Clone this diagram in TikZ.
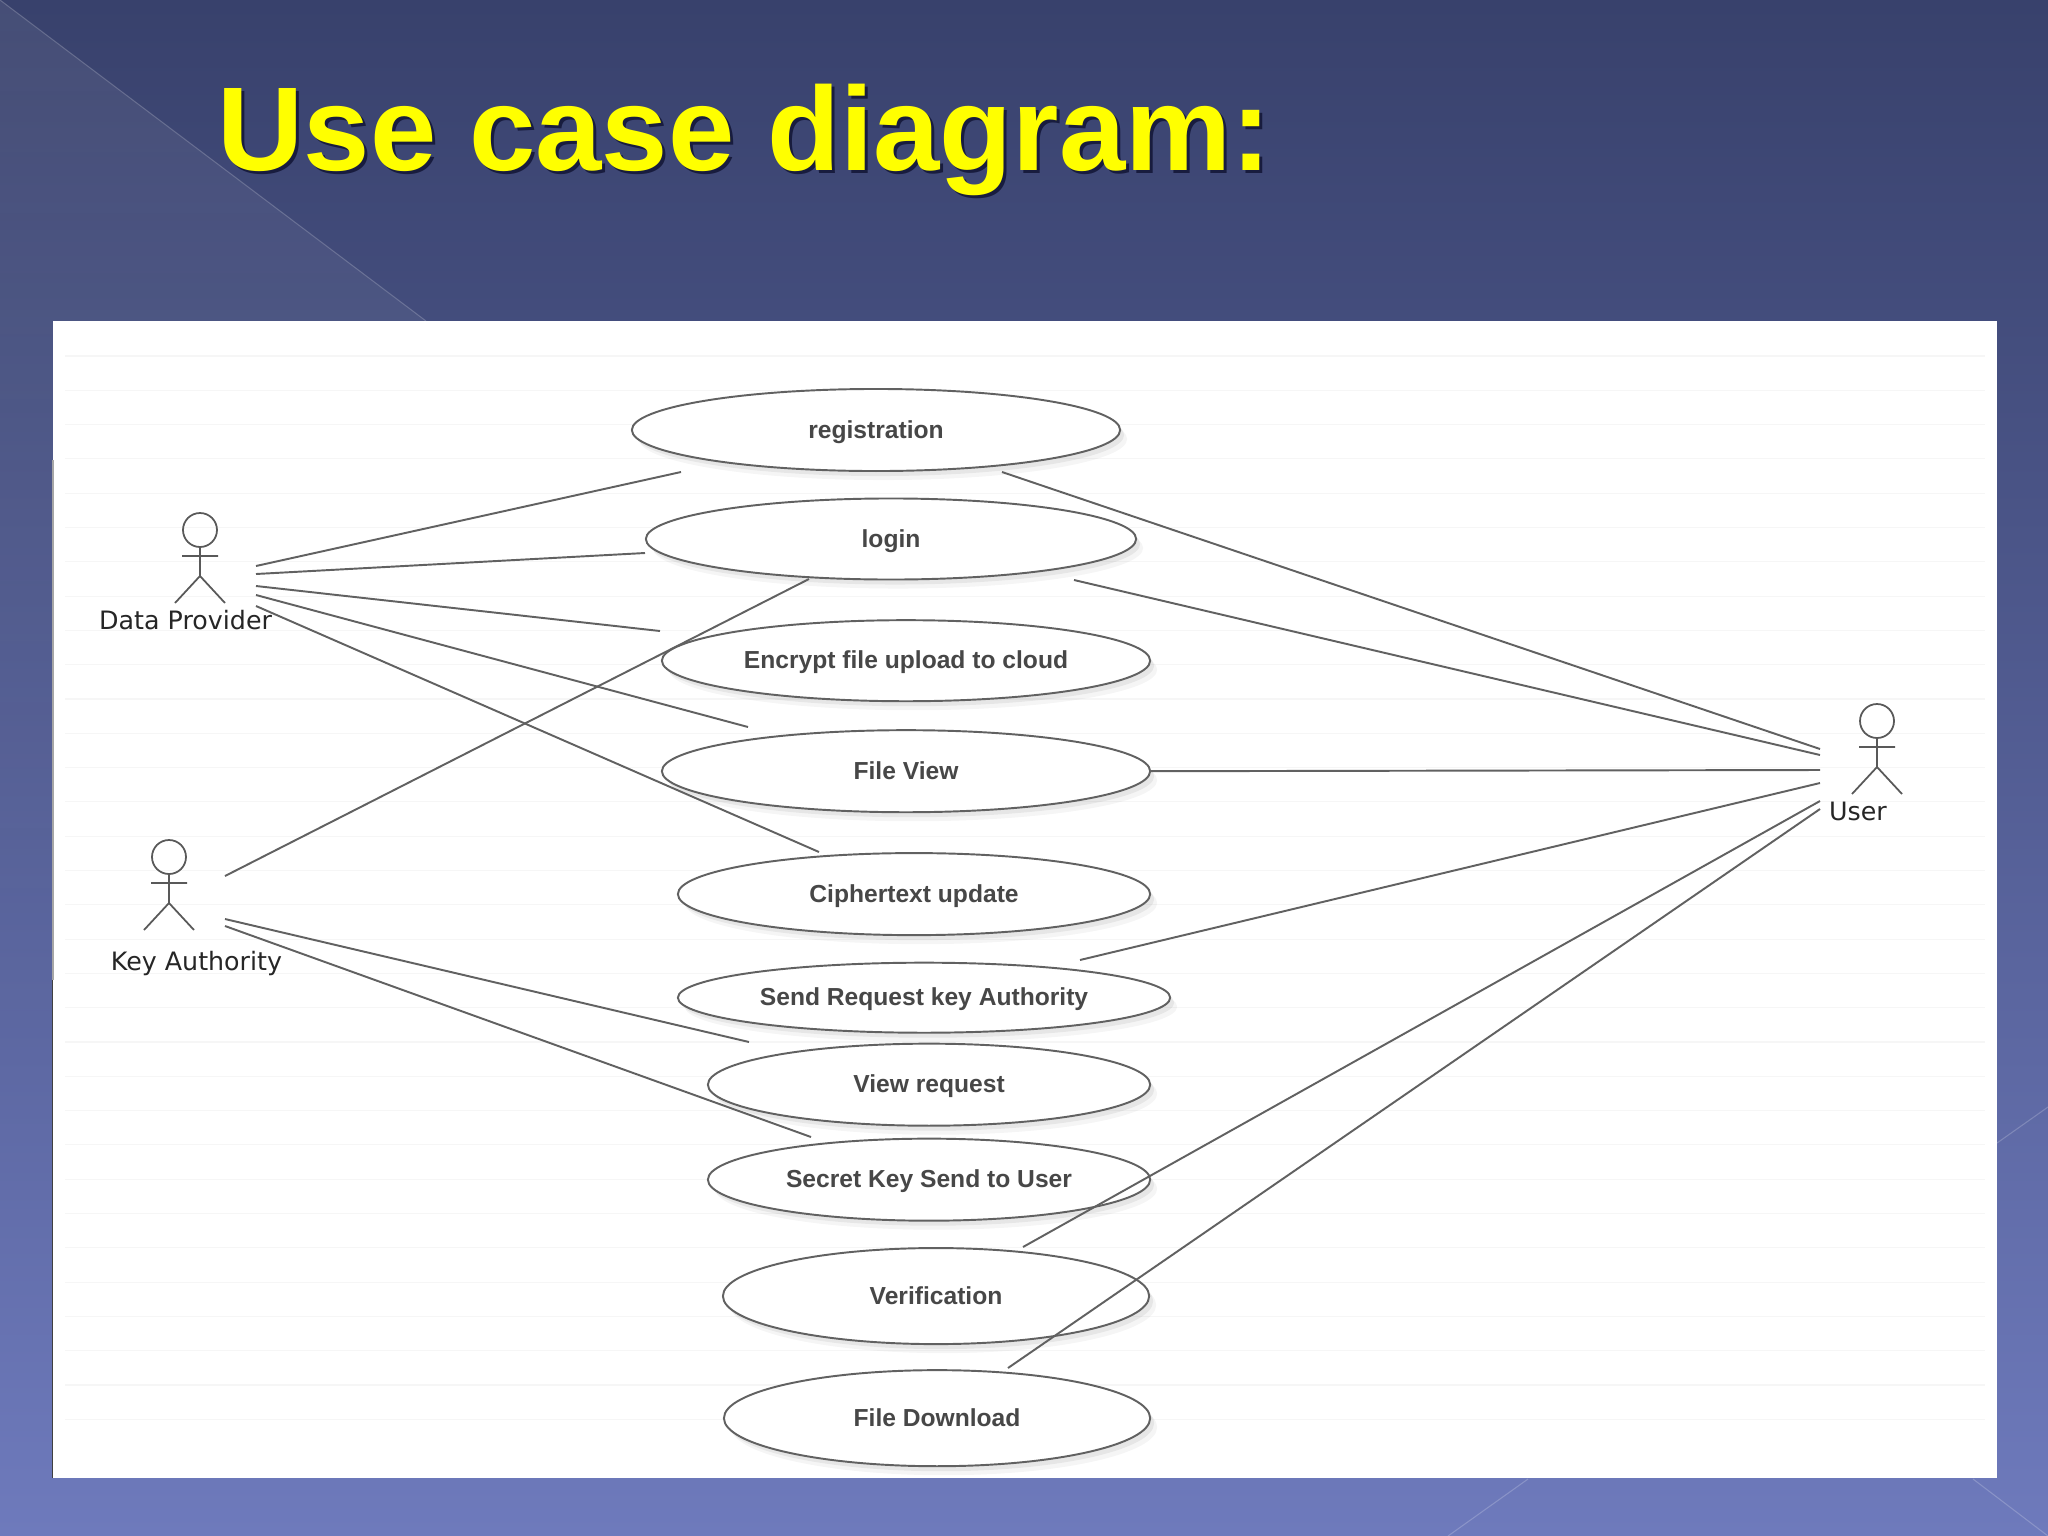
\documentclass[tikz,border=0pt]{standalone}
\usepackage{xcolor}
\usepackage{fontspec}
\setmainfont{Liberation Sans}
\newfontfamily\actorfont{DejaVu Sans}
\usetikzlibrary{positioning, shapes.geometric, shadows, fadings}
\definecolor{slidetop}{RGB}{56,65,108}
\definecolor{slidebottom}{RGB}{110,122,188}
\definecolor{titleyellow}{RGB}{255,255,0}
\definecolor{titleshade}{RGB}{24,28,62}

\begin{document}
\begin{tikzpicture}[
    x=0.01cm, y=-0.01cm,
    uc/.style 2 args={ellipse, draw=black!62, line width=0.55pt, fill=white, inner sep=0pt,
      minimum width=#1, minimum height=#2, font=\fontsize{7}{8}\selectfont\bfseries, text=black!72,
      text height=5.6pt, text depth=0.9pt,
      drop shadow={shadow xshift=0.07cm, shadow yshift=-0.09cm, opacity=0.04, fill=black},
      drop shadow={shadow xshift=0.04cm, shadow yshift=-0.05cm, opacity=0.06, fill=black}},
    actorlabel/.style={font=\actorfont\fontsize{7.2}{8}\selectfont, text=black!85, inner sep=0pt},
    titletext/.style={font=\fontsize{33.9}{40}\selectfont\bfseries, inner sep=0pt, anchor=base west},
    link/.style={draw=black!62, line width=0.55pt},
    actor/.pic={
      \draw[black!65, line width=0.5pt] (0,0) circle (17)
        (-18,26) -- (18,26) (0,17) -- (0,46) (-25,73) -- (0,46) -- (25,73);
    }
  ]
    \useasboundingbox (0,0) rectangle (2048,1536);
    \shade[top color=slidetop, bottom color=slidebottom] (0,0) rectangle (2048,1536);
    \fill[white, opacity=0.07, path fading=south] (0,0) -- (426,321) -- (426,1100) -- (0,1100) -- cycle;
    \draw[white, opacity=0.18, line width=0.3pt] (0,0) -- (426,321);
    \draw[white, opacity=0.2, line width=0.3pt] (2048,1107) -- (1997,1143) (1528,1479) -- (1448,1536) (1973,1479) -- (2048,1536);

    \node[titletext, text=titleshade] (titleback) at (220,173) {Use case diagram:};
    \node[titletext, text=titleyellow] (title) at (217,170) {Use case diagram:};

    \fill[white] (53,321) rectangle (1997,1478);
    \foreach \rule in {356,390.3,...,1450}
      \draw[black!3.5, line width=0.3pt] (65,\rule) -- (1985,\rule);
    \draw[black!35, line width=0.3pt] (53,460) -- (53,980);
    \draw[black!75, line width=0.5pt] (52.5,980) -- (52.5,1478);

    \node[uc={4.88cm}{0.82cm}] (reg) at (876,430) {registration};
    \node[uc={4.90cm}{0.81cm}, below=0.255cm of reg, xshift=0.15cm] (login) {login};
    \node[uc={4.88cm}{0.81cm}, below=0.387cm of login, xshift=0.15cm] (enc) {Encrypt file upload to cloud};
    \node[uc={4.88cm}{0.82cm}, below=0.27cm of enc] (fview) {File View};
    \node[uc={4.72cm}{0.82cm}, below=0.389cm of fview, xshift=0.08cm] (cipher) {Ciphertext update};
    \node[uc={4.92cm}{0.70cm}, below=0.256cm of cipher, xshift=0.10cm] (sendreq) {Send Request key Authority};
    \node[uc={4.42cm}{0.82cm}, below=0.09cm of sendreq, xshift=0.05cm] (vreq) {View request};
    \node[uc={4.42cm}{0.82cm}, below=0.11cm of vreq] (secret) {Secret Key Send to User};
    \node[uc={4.26cm}{0.96cm}, below=0.254cm of secret, xshift=0.07cm] (verif) {Verification};
    \node[uc={4.26cm}{0.96cm}, below=0.241cm of verif, xshift=0.01cm] (down) {File Download};

    \pic at (200,530) {actor};
    \pic at (169,857) {actor};
    \pic at (1877,721) {actor};
    \node[actorlabel] (dp) at (185.6,620) {Data Provider};
    \node[actorlabel] (ka) at (196.5,963) {Key Authority};
    \node[actorlabel] (us) at (1858,811) {User};

    \coordinate (dp1) at (256,566);
    \coordinate (dp2) at (256,574);
    \coordinate (dp3) at (256,586);
    \coordinate (dp4) at (256,595);
    \coordinate (dp5) at (256,606);
    \coordinate (ka1) at (225,876);
    \coordinate (ka2) at (225,919);
    \coordinate (ka3) at (225,926);
    \coordinate (us1) at (1820,749);
    \coordinate (us2) at (1820,755);
    \coordinate (us3) at (1820,770);
    \coordinate (us4) at (1820,783);
    \coordinate (us5) at (1820,801);
    \coordinate (us6) at (1820,809);
    \coordinate (regl) at (681,472);
    \coordinate (regr) at (1002,472);
    \coordinate (loginl) at (645,553);
    \coordinate (loginb) at (809,579);
    \coordinate (loginr) at (1074,580);
    \coordinate (encl) at (660,631);
    \coordinate (fviewt) at (748,727);
    \coordinate (ciphert) at (819,852);
    \coordinate (sendt) at (1080,960);
    \coordinate (vreqt) at (749,1042);
    \coordinate (secrett) at (811,1137);
    \coordinate (verift) at (1023,1247);
    \coordinate (downt) at (1008,1368);

    \draw[link] (dp1) -- (regl);
    \draw[link] (dp2) -- (loginl);
    \draw[link] (dp3) -- (encl);
    \draw[link] (dp4) -- (fviewt);
    \draw[link] (dp5) -- (ciphert);
    \draw[link] (ka1) -- (loginb);
    \draw[link] (ka2) -- (vreqt);
    \draw[link] (ka3) -- (secrett);
    \draw[link] (us1) -- (regr);
    \draw[link] (us2) -- (loginr);
    \draw[link] (us3) -- (fview.east);
    \draw[link] (us4) -- (sendt);
    \draw[link] (us5) -- (verift);
    \draw[link] (us6) -- (downt);
  \end{tikzpicture}
\end{document}
